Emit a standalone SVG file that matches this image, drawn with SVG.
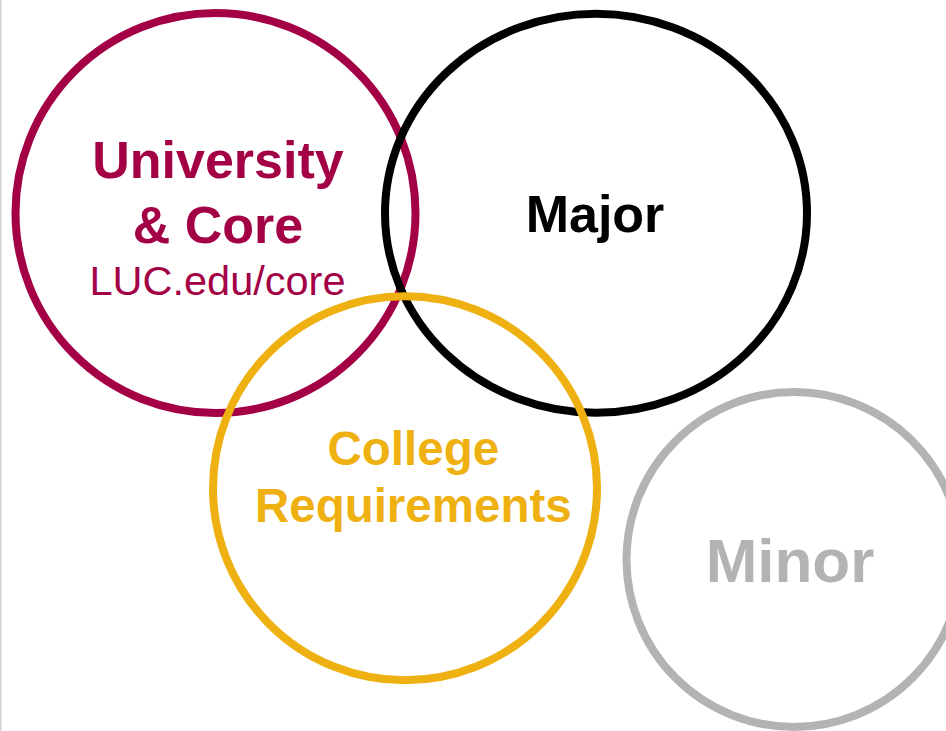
<svg xmlns="http://www.w3.org/2000/svg" width="946" height="731" viewBox="0 0 946 731">
<style>
  .ring { fill: none; stroke-width: 8; }
  .b { font-family: "Liberation Sans", Arial, sans-serif; font-weight: bold; text-anchor: middle; }
  .r { font-family: "Liberation Sans", Arial, sans-serif; text-anchor: middle; }
</style>
<rect x="0" y="0" width="946" height="731" fill="#ffffff"/>
<line x1="0.75" y1="0" x2="0.75" y2="731" stroke="#d4d4d4" stroke-width="1.5"/>
<g id="university-core">
  <circle class="ring" cx="215.5" cy="213" r="200" stroke="#A30046"/>
  <text class="b" x="218" y="178" font-size="52" fill="#A30046">University</text>
  <text class="b" x="218" y="243" font-size="52" fill="#A30046">&amp; Core</text>
  <text class="r" x="217.5" y="295" font-size="41.5" fill="#A30046">LUC.edu/core</text>
</g>
<g id="major">
  <ellipse class="ring" cx="596" cy="213.3" rx="211" ry="199.5" stroke="#000000"/>
  <text class="b" x="595" y="232" font-size="52" fill="#000000">Major</text>
</g>
<g id="college">
  <circle class="ring" cx="405" cy="488.3" r="192" stroke="#EEB111"/>
  <text class="b" x="413.3" y="465" font-size="47.5" fill="#EEB111">College</text>
  <text class="b" x="413.3" y="521.7" font-size="47.5" fill="#EEB111">Requirements</text>
</g>
<g id="minor">
  <circle class="ring" cx="794" cy="559.5" r="167.5" stroke="#B3B3B3"/>
  <text class="b" x="790" y="581.7" font-size="62" fill="#B3B3B3">Minor</text>
</g>
<g id="connectors"></g>
</svg>
